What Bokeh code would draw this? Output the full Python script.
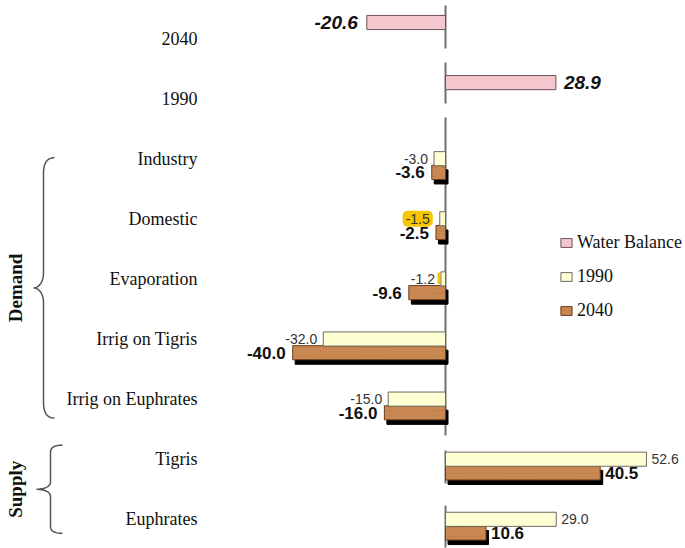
import numpy as np
from bokeh.plotting import figure
from bokeh.models import ColumnDataSource, Range1d, Legend, LegendItem
from bokeh.core.properties import value
from bokeh.embed import file_html
from bokeh.resources import INLINE

# ---------------- data ----------------
balance_cats = ["2040", "1990"]
balance_vals = [-20.6, 28.9]

flow_cats = ["Industry", "Domestic", "Evaporation", "Irrig on Tigris",
             "Irrig on Euphrates", "Tigris", "Euphrates"]
vals_1990 = [-3.0, -1.5, -1.2, -32.0, -15.0, 52.6, 29.0]
vals_2040 = [-3.6, -2.5, -9.6, -40.0, -16.0, 40.5, 10.6]

group_names = ["Demand", "Supply"]
group_first = ["Industry", "Tigris"]
group_last = ["Irrig on Euphrates", "Euphrates"]

series_names = ["Water Balance", "1990", "2040"]
highlighted_1990 = ["Domestic"]

# ---------------- layout constants ----------------
W, H = 685, 548
X0 = 445.0      # pixel of the zero line
PXU = 3.82      # pixels per unit
ROW0 = 38.0     # pixel of first row
ROWPX = 60.1    # pixels per row

BAR_H = 0.235
BAL_OFF = -0.266
OFF_1990 = 0.0
OFF_2040 = 0.228
SH_DX = 2.5 / PXU
SH_DY = 4.5 / ROWPX

PINK = "#F4C7CF"
PINK_LINE = "#6E5055"
YEL = "#FFFFD4"
YEL_LINE = "#6A6A60"
BROWN = "#C98752"
BROWN_LINE = "#6B3F1F"
AXIS = "#707070"

all_rows = balance_cats + flow_cats
row = {c: i for i, c in enumerate(all_rows)}


def px_x(px):
    return (px - X0) / PXU


def px_y(py):
    return (py - ROW0) / ROWPX


def row_px(c):
    return ROW0 + ROWPX * row[c]


x_range = Range1d(px_x(0), px_x(W))
y_range = Range1d(px_y(H), px_y(0))

p = figure(width=W, height=H, x_range=x_range, y_range=y_range,
           output_backend="svg", toolbar_location=None, min_border=0,
           x_axis_type=None, y_axis_type=None, outline_line_color=None,
           background_fill_color="white", border_fill_color="white")

# ---------------- zero axis segments ----------------
seg_px = [(5, 48), (62, 103), (117, 435), (450, 483), (505, 547)]
p.segment(x0=[0] * len(seg_px), x1=[0] * len(seg_px),
          y0=[px_y(a) for a, b in seg_px], y1=[px_y(b) for a, b in seg_px],
          line_color=AXIS, line_width=2)

# ---------------- bars ----------------
bal_src = ColumnDataSource(dict(
    y=[row[c] + BAL_OFF for c in balance_cats], v=balance_vals))
r_bal = p.hbar(y="y", left=0, right="v", height=BAR_H, source=bal_src,
               fill_color=PINK, line_color=PINK_LINE, line_width=1)

src_2040 = ColumnDataSource(dict(
    y=[row[c] + OFF_2040 for c in flow_cats], v=vals_2040,
    ys=[row[c] + OFF_2040 + SH_DY for c in flow_cats],
    ls=[SH_DX] * len(vals_2040),
    rs=[v + SH_DX for v in vals_2040]))
p.hbar(y="ys", left="ls", right="rs", height=BAR_H, source=src_2040,
       fill_color="black", line_color="black")
r_2040 = p.hbar(y="y", left=0, right="v", height=BAR_H, source=src_2040,
                fill_color=BROWN, line_color=BROWN_LINE, line_width=1,
                hatch_pattern="horizontal_dash", hatch_color="#A96A38",
                hatch_alpha=0.35, hatch_scale=9, hatch_weight=1)

src_1990 = ColumnDataSource(dict(
    y=[row[c] + OFF_1990 for c in flow_cats], v=vals_1990))
r_1990 = p.hbar(y="y", left=0, right="v", height=BAR_H, source=src_1990,
                fill_color=YEL, line_color=YEL_LINE, line_width=1)

# small yellow highlight remnant next to the Evaporation 1990 bar
evap_i = flow_cats.index("Evaporation")
p.hbar(y=[src_1990.data["y"][evap_i] - 0.01],
       left=[vals_1990[evap_i] - 0.9], right=[vals_1990[evap_i] - 0.15],
       height=0.19, fill_color="#F7C600", line_color=None)

# ---------------- value labels ----------------
def label_data(ys, vals, neg_off, pos_off, keep=None):
    d = dict(x=[], y=[], t=[], a=[], o=[])
    for i, (y, v) in enumerate(zip(ys, vals)):
        if keep is not None and not keep(i):
            continue
        d["x"].append(v)
        d["y"].append(y)
        d["t"].append(f"{v:.1f}")
        d["a"].append("right" if v < 0 else "left")
        d["o"].append(neg_off if v < 0 else pos_off)
    return ColumnDataSource(d)


bal_lab = label_data(bal_src.data["y"], balance_vals, -9, 8)
p.text(x="x", y="y", text="t", text_align="a", x_offset="o", source=bal_lab,
       text_baseline="middle", text_font=value("Liberation Sans"),
       text_font_style="bold italic", text_font_size="19px", text_color="#111111")

hl_idx = [flow_cats.index(c) for c in highlighted_1990]
lab1990 = label_data(src_1990.data["y"], vals_1990, -6, 5,
                     keep=lambda i: i not in hl_idx)
p.text(x="x", y="y", text="t", text_align="a", x_offset="o", source=lab1990,
       text_baseline="middle", text_font=value("Liberation Sans"),
       text_font_size="14px", text_color="#333333")
lab1990h = label_data(src_1990.data["y"], vals_1990, -7, 5,
                      keep=lambda i: i in hl_idx)
p.text(x="x", y="y", text="t", text_align="a", x_offset="o", source=lab1990h,
       text_baseline="middle", text_font=value("Liberation Sans"),
       text_font_size="14px", text_color="#333333",
       background_fill_color="#F7C600", padding=3, border_radius=5)

lab2040 = label_data(src_2040.data["y"], vals_2040, -7, 5)
p.text(x="x", y="y", text="t", text_align="a", x_offset="o", source=lab2040,
       text_baseline="middle", text_font=value("Liberation Sans"),
       text_font_style="bold", text_font_size="17px", text_color="#111111")

# ---------------- category labels ----------------
cat_src = ColumnDataSource(dict(
    x=[x_range.start] * len(all_rows), y=[row[c] for c in all_rows], t=all_rows))
p.text(x="x", y="y", text="t", source=cat_src, x_offset=197,
       text_align="right", text_baseline="middle",
       text_font=value("Liberation Serif"), text_font_size="18px",
       text_color="#111111")

# ---------------- braces and group labels ----------------
def cubic(p0, p1, p2, p3, n=14):
    t = np.linspace(0, 1, n)[:, None]
    pts = ((1 - t) ** 3 * np.array(p0) + 3 * (1 - t) ** 2 * t * np.array(p1)
           + 3 * (1 - t) * t ** 2 * np.array(p2) + t ** 3 * np.array(p3))
    return pts.tolist()


def brace(top, bot, x_end, x_v, x_tip, r, r2):
    mid = (top + bot) / 2
    pts = []
    pts += cubic((x_end, top), (x_v + (x_end - x_v) * 0.3, top),
                 (x_v, top + r * 0.35), (x_v, top + r))
    pts += cubic((x_v, mid - r2), (x_v, mid - r2 * 0.35),
                 (x_tip + (x_v - x_tip) * 0.5, mid), (x_tip, mid))
    pts += cubic((x_tip, mid), (x_tip + (x_v - x_tip) * 0.5, mid),
                 (x_v, mid + r2 * 0.35), (x_v, mid + r2))
    pts += cubic((x_v, bot - r), (x_v, bot - r * 0.35),
                 (x_v + (x_end - x_v) * 0.3, bot), (x_end, bot))
    return [px_x(a) for a, b in pts], [px_y(b) for a, b in pts]


brace_style = [
    dict(top=-1, bot=19, x_end=54, x_v=43, x_tip=33, r=16, r2=15),
    dict(top=-14, bot=14, x_end=62, x_v=50, x_tip=36, r=7, r2=7),
]
for name, first, last, st in zip(group_names, group_first, group_last, brace_style):
    top = row_px(first) + st["top"]
    bot = row_px(last) + st["bot"]
    bx, by = brace(top, bot, st["x_end"], st["x_v"], st["x_tip"], st["r"], st["r2"])
    p.line(bx, by, line_color="#555555", line_width=1.5)
    p.text(x=[px_x(15)], y=[px_y((top + bot) / 2)], text=[name], angle=np.pi / 2,
           text_align="center", text_baseline="middle",
           text_font=value("Liberation Serif"), text_font_style="bold",
           text_font_size="19px", text_color="#111111")

# ---------------- legend ----------------
legend = Legend(items=[LegendItem(label=series_names[0], renderers=[r_bal]),
                       LegendItem(label=series_names[1], renderers=[r_1990]),
                       LegendItem(label=series_names[2], renderers=[r_2040])],
                location=(559, 227), orientation="vertical",
                background_fill_alpha=0, border_line_color=None,
                padding=0, margin=0, spacing=13, label_height=11,
                glyph_height=11, glyph_width=14, label_standoff=4,
                label_text_font="Liberation Serif", label_text_font_size="18px",
                label_text_color="#111111", label_text_baseline="middle")
p.add_layout(legend)

open("out.html", "w").write(file_html(p, INLINE))
